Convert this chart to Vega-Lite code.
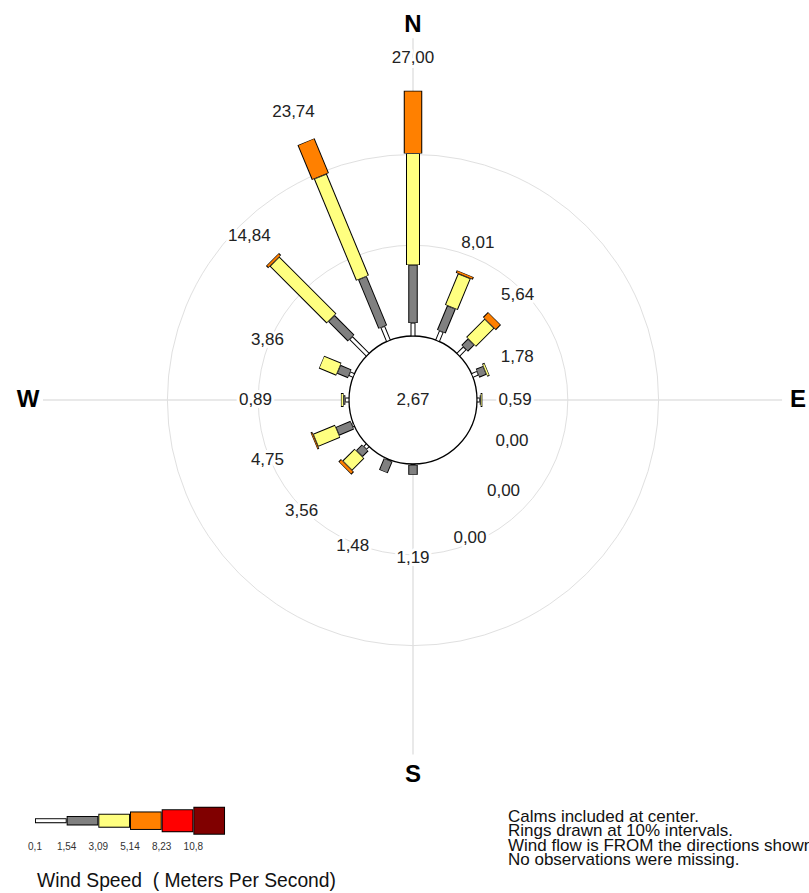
{
  "$schema": "https://vega.github.io/schema/vega-lite/v6.json",
  "padding": 0,
  "background": "white",
  "config": {"view": {"stroke": null}, "font": "Liberation Sans"},
  "datasets": {
    "freq": [
      {"dir": "N", "deg": 0, "speed": 0.1, "pct": 1.43},
      {"dir": "N", "deg": 0, "speed": 1.54, "pct": 6.39},
      {"dir": "N", "deg": 0, "speed": 3.09, "pct": 12.28},
      {"dir": "N", "deg": 0, "speed": 5.14, "pct": 6.90},
      {"dir": "NNE", "deg": 22.5, "speed": 0.1, "pct": 1.10},
      {"dir": "NNE", "deg": 22.5, "speed": 1.54, "pct": 2.90},
      {"dir": "NNE", "deg": 22.5, "speed": 3.09, "pct": 3.71},
      {"dir": "NNE", "deg": 22.5, "speed": 5.14, "pct": 0.30},
      {"dir": "NE", "deg": 45, "speed": 0.1, "pct": 1.00},
      {"dir": "NE", "deg": 45, "speed": 1.54, "pct": 1.00},
      {"dir": "NE", "deg": 45, "speed": 3.09, "pct": 2.85},
      {"dir": "NE", "deg": 45, "speed": 5.14, "pct": 0.79},
      {"dir": "ENE", "deg": 67.5, "speed": 0.1, "pct": 0.65},
      {"dir": "ENE", "deg": 67.5, "speed": 1.54, "pct": 0.85},
      {"dir": "ENE", "deg": 67.5, "speed": 3.09, "pct": 0.28},
      {"dir": "E", "deg": 90, "speed": 0.1, "pct": 0.30},
      {"dir": "E", "deg": 90, "speed": 1.54, "pct": 0.10},
      {"dir": "E", "deg": 90, "speed": 3.09, "pct": 0.19},
      {"dir": "ESE", "deg": 112.5, "speed": 0.1, "pct": 0},
      {"dir": "SE", "deg": 135, "speed": 0.1, "pct": 0},
      {"dir": "SSE", "deg": 157.5, "speed": 0.1, "pct": 0},
      {"dir": "S", "deg": 180, "speed": 0.1, "pct": 0.10},
      {"dir": "S", "deg": 180, "speed": 1.54, "pct": 1.09},
      {"dir": "SSW", "deg": 202.5, "speed": 0.1, "pct": 0.10},
      {"dir": "SSW", "deg": 202.5, "speed": 1.54, "pct": 1.38},
      {"dir": "SW", "deg": 225, "speed": 0.1, "pct": 0.40},
      {"dir": "SW", "deg": 225, "speed": 1.54, "pct": 0.90},
      {"dir": "SW", "deg": 225, "speed": 3.09, "pct": 1.86},
      {"dir": "SW", "deg": 225, "speed": 5.14, "pct": 0.40},
      {"dir": "WSW", "deg": 247.5, "speed": 0.1, "pct": 0.20},
      {"dir": "WSW", "deg": 247.5, "speed": 1.54, "pct": 1.75},
      {"dir": "WSW", "deg": 247.5, "speed": 3.09, "pct": 2.60},
      {"dir": "WSW", "deg": 247.5, "speed": 5.14, "pct": 0.20},
      {"dir": "W", "deg": 270, "speed": 0.1, "pct": 0.40},
      {"dir": "W", "deg": 270, "speed": 1.54, "pct": 0.20},
      {"dir": "W", "deg": 270, "speed": 3.09, "pct": 0.29},
      {"dir": "WNW", "deg": 292.5, "speed": 0.1, "pct": 0.50},
      {"dir": "WNW", "deg": 292.5, "speed": 1.54, "pct": 1.30},
      {"dir": "WNW", "deg": 292.5, "speed": 3.09, "pct": 2.06},
      {"dir": "NW", "deg": 315, "speed": 0.1, "pct": 2.60},
      {"dir": "NW", "deg": 315, "speed": 1.54, "pct": 3.05},
      {"dir": "NW", "deg": 315, "speed": 3.09, "pct": 8.85},
      {"dir": "NW", "deg": 315, "speed": 5.14, "pct": 0.34},
      {"dir": "NNW", "deg": 337.5, "speed": 0.1, "pct": 1.65},
      {"dir": "NNW", "deg": 337.5, "speed": 1.54, "pct": 5.85},
      {"dir": "NNW", "deg": 337.5, "speed": 3.09, "pct": 12.10},
      {"dir": "NNW", "deg": 337.5, "speed": 5.14, "pct": 4.14}
    ],
    "rings": [{"ring": 0}, {"ring": 10}, {"ring": 20}],
    "compass": [
      {"dir": "N", "deg": 0, "reach": 32.8},
      {"dir": "E", "deg": 90, "reach": 33.6},
      {"dir": "S", "deg": 180, "reach": 32.0},
      {"dir": "W", "deg": 270, "reach": 33.7}
    ],
    "calm": [{"calm": 2.67}],
    "classes": [{"speed": 0.1}, {"speed": 1.54}, {"speed": 3.09}, {"speed": 5.14}, {"speed": 8.23}, {"speed": 10.8}]
  },
  "vconcat": [
    {
      "width": 809,
      "height": 790,
      "encoding": {
        "x": {"field": "px", "type": "quantitative", "scale": {"domain": [-45.4846, 43.6123], "nice": false, "zero": false}, "axis": null},
        "y": {"field": "py", "type": "quantitative", "scale": {"domain": [-42.9515, 44.0529], "nice": false, "zero": false}, "axis": null}
      },
      "layer": [
        {
          "data": {"name": "compass"},
          "transform": [
            {"calculate": "datum.deg * PI / 180", "as": "rad"},
            {"calculate": "0", "as": "px"},
            {"calculate": "0", "as": "py"},
            {"calculate": "(7.0485 + datum.reach) * sin(datum.rad)", "as": "qx"},
            {"calculate": "(7.0485 + datum.reach) * cos(datum.rad)", "as": "qy"}
          ],
          "mark": {"type": "rule", "color": "#e2e2e2", "strokeWidth": 1.5},
          "encoding": {"x2": {"field": "qx"}, "y2": {"field": "qy"}}
        },
        {
          "data": {"name": "rings"},
          "transform": [
            {"calculate": "0", "as": "px"},
            {"calculate": "0", "as": "py"},
            {"calculate": "7.0485 + datum.ring", "as": "rr"}
          ],
          "mark": {"type": "arc", "theta": 6.2832},
          "encoding": {
            "radius": {"field": "rr", "type": "quantitative", "stack": null, "scale": {"type": "linear", "domain": [0, 89.0969], "range": [0, 809], "zero": true, "nice": false}, "legend": null},
            "fill": {"condition": {"test": "datum.ring == 0", "value": "white"}, "value": "transparent"},
            "stroke": {"condition": {"test": "datum.ring == 0", "value": "black"}, "value": "#e0e0e0"},
            "strokeWidth": {"condition": {"test": "datum.ring == 0", "value": 1.3}, "value": 1}
          }
        },
        {
          "data": {"name": "compass"},
          "transform": [
            {"calculate": "datum.deg * PI / 180", "as": "rad"},
            {"calculate": "datum.deg % 180 == 0 ? 41.3 : 42.4", "as": "lr"},
            {"calculate": "datum.lr * sin(datum.rad)", "as": "px"},
            {"calculate": "datum.lr * cos(datum.rad)", "as": "py"}
          ],
          "mark": {"type": "text", "fontSize": 24, "fontWeight": "bold", "color": "#000", "align": "center", "baseline": "middle"},
          "encoding": {"text": {"field": "dir"}}
        },
        {
          "data": {"name": "freq"},
          "transform": [
            {"aggregate": [{"op": "sum", "field": "pct", "as": "total"}], "groupby": ["dir", "deg"]},
            {"calculate": "datum.deg * PI / 180", "as": "rad"},
            {"calculate": "7.0485 + max(datum.total + 3.6, 10.3 - 6.5 * pow(max(0, sin(datum.rad)), 2))", "as": "lr"},
            {"calculate": "datum.lr * sin(datum.rad)", "as": "px"},
            {"calculate": "datum.lr * cos(datum.rad)", "as": "py"},
            {"calculate": "replace(format(datum.total, '.2f'), '.', ',')", "as": "txt"}
          ],
          "layer": [
            {
              "mark": {"type": "text", "fontSize": 17, "color": "white", "stroke": "white", "strokeWidth": 6, "strokeJoin": "round", "align": "center", "baseline": "middle"},
              "encoding": {"text": {"field": "txt"}}
            },
            {
              "mark": {"type": "text", "fontSize": 17, "color": "#222", "align": "center", "baseline": "middle"},
              "encoding": {"text": {"field": "txt"}}
            }
          ]
        },
        {
          "data": {"name": "calm"},
          "transform": [
            {"calculate": "0", "as": "px"},
            {"calculate": "0", "as": "py"},
            {"calculate": "replace(format(datum.calm, '.2f'), '.', ',')", "as": "txt"}
          ],
          "mark": {"type": "text", "fontSize": 17, "color": "#222", "align": "center", "baseline": "middle"},
          "encoding": {"text": {"field": "txt"}}
        },
        {
          "data": {"name": "freq"},
          "transform": [
            {"window": [{"op": "sum", "field": "pct", "as": "cum"}], "groupby": ["dir"], "sort": [{"field": "speed", "order": "ascending"}], "frame": [null, 0]},
            {"calculate": "datum.deg * PI / 180", "as": "rad"},
            {"calculate": "7.0485 + datum.cum - datum.pct", "as": "r0"},
            {"calculate": "7.0485 + datum.cum", "as": "r1"},
            {"calculate": "datum.r0 * sin(datum.rad)", "as": "px"},
            {"calculate": "datum.r0 * cos(datum.rad)", "as": "py"},
            {"calculate": "datum.r1 * sin(datum.rad)", "as": "qx"},
            {"calculate": "datum.r1 * cos(datum.rad)", "as": "qy"}
          ],
          "mark": {"type": "rule", "strokeCap": "butt", "color": "black"},
          "encoding": {
            "x2": {"field": "qx"},
            "y2": {"field": "qy"},
            "strokeWidth": {"field": "speed", "type": "ordinal", "scale": {"type": "ordinal", "domain": [0.1, 1.54, 3.09, 5.14, 8.23, 10.8], "range": [5, 9.5, 14, 18.5, 23, 28]}, "legend": null}
          }
        },
        {
          "data": {"name": "freq"},
          "transform": [
            {"window": [{"op": "sum", "field": "pct", "as": "cum"}], "groupby": ["dir"], "sort": [{"field": "speed", "order": "ascending"}], "frame": [null, 0]},
            {"calculate": "datum.deg * PI / 180", "as": "rad"},
            {"calculate": "7.0485 + datum.cum - datum.pct + 0.06", "as": "r0"},
            {"calculate": "max(7.0485 + datum.cum - 0.06, datum.r0)", "as": "r1"},
            {"calculate": "datum.r0 * sin(datum.rad)", "as": "px"},
            {"calculate": "datum.r0 * cos(datum.rad)", "as": "py"},
            {"calculate": "datum.r1 * sin(datum.rad)", "as": "qx"},
            {"calculate": "datum.r1 * cos(datum.rad)", "as": "qy"}
          ],
          "mark": {"type": "rule", "strokeCap": "butt"},
          "encoding": {
            "x2": {"field": "qx"},
            "y2": {"field": "qy"},
            "strokeWidth": {"field": "speed", "type": "ordinal", "scale": {"type": "ordinal", "domain": [0.1, 1.54, 3.09, 5.14, 8.23, 10.8], "range": [3, 7.5, 12, 16.5, 21, 26]}, "legend": null},
            "color": {"field": "speed", "type": "ordinal", "scale": {"domain": [0.1, 1.54, 3.09, 5.14, 8.23, 10.8], "range": ["#ffffff", "#808080", "#ffff80", "#ff8000", "#ff0000", "#800000"]}, "legend": null}
          }
        }
      ],
      "resolve": {"scale": {"strokeWidth": "independent"}}
    },
    {
      "spacing": 158,
      "hconcat": [
        {
          "width": 345,
          "height": 61.4,
          "data": {"name": "classes"},
          "transform": [
            {"window": [{"op": "row_number", "as": "i"}], "sort": [{"field": "speed", "order": "ascending"}]},
            {"calculate": "datum.i - 1", "as": "a"},
            {"calculate": "datum.i", "as": "b"},
            {"calculate": "datum.a + 0.03", "as": "af"},
            {"calculate": "datum.b - 0.03", "as": "bf"},
            {"calculate": "replace(format(datum.speed, '~g'), '.', ',')", "as": "lbl"}
          ],
          "encoding": {
            "y": {"datum": 0, "type": "quantitative", "scale": {"domain": [-1, 1]}, "axis": null}
          },
          "layer": [
            {
              "mark": {"type": "rule", "strokeCap": "butt", "color": "black"},
              "encoding": {
                "x": {"field": "a", "type": "quantitative", "scale": {"domain": [-1.105, 9.788], "nice": false, "zero": false}, "axis": null},
                "x2": {"field": "b"},
                "strokeWidth": {"field": "speed", "type": "ordinal", "scale": {"type": "ordinal", "domain": [0.1, 1.54, 3.09, 5.14, 8.23, 10.8], "range": [5, 9.5, 14, 18.5, 23, 28]}, "legend": null}
              }
            },
            {
              "mark": {"type": "rule", "strokeCap": "butt"},
              "encoding": {
                "x": {"field": "af", "type": "quantitative", "scale": {"domain": [-1.105, 9.788], "nice": false, "zero": false}, "axis": null},
                "x2": {"field": "bf"},
                "strokeWidth": {"field": "speed", "type": "ordinal", "scale": {"type": "ordinal", "domain": [0.1, 1.54, 3.09, 5.14, 8.23, 10.8], "range": [3, 7.5, 12, 16.5, 21, 26]}, "legend": null},
                "color": {"field": "speed", "type": "ordinal", "scale": {"domain": [0.1, 1.54, 3.09, 5.14, 8.23, 10.8], "range": ["#ffffff", "#808080", "#ffff80", "#ff8000", "#ff0000", "#800000"]}, "legend": null}
              }
            },
            {
              "mark": {"type": "text", "fontSize": 10, "color": "#333", "dy": 26.3, "align": "center", "baseline": "middle"},
              "encoding": {
                "x": {"field": "a", "type": "quantitative", "scale": {"domain": [-1.105, 9.788], "nice": false, "zero": false}, "axis": null},
                "text": {"field": "lbl"}
              }
            }
          ],
          "resolve": {"scale": {"strokeWidth": "independent"}},
          "title": {"text": "Wind Speed \u00a0( Meters Per Second)", "orient": "bottom", "anchor": "start", "fontSize": 19.3, "fontWeight": "normal", "color": "#111", "dx": 37, "offset": 34.6, "baseline": "alphabetic"}
        },
        {
          "width": 10,
          "height": 53.4,
          "data": {"values": [{"n": 1}]},
          "mark": {"type": "text", "align": "left", "baseline": "middle", "fontSize": 17, "lineHeight": 14.6, "color": "#111"},
          "encoding": {
            "text": {"value": ["Calms included at center.", "Rings drawn at 10% intervals.", "Wind flow is FROM the directions shown.", "No observations were missing."]}
          }
        }
      ]
    }
  ],
  "spacing": 0
}
